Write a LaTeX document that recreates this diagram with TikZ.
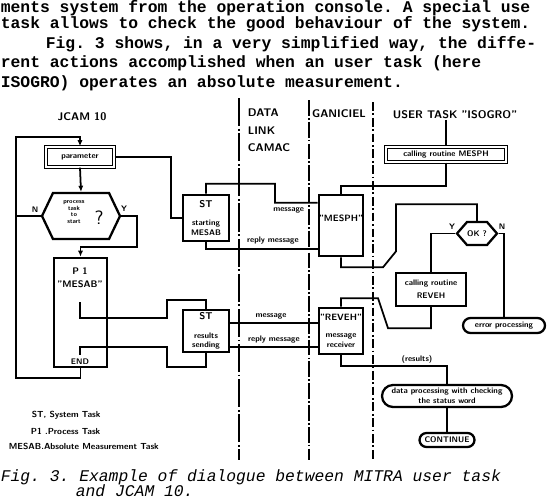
\documentclass[tikz,border=0pt]{standalone}
\usepackage{fontspec}
\setmonofont{Liberation Mono}
\usetikzlibrary{arrows.meta, positioning, calc, shapes.misc, shapes.symbols}

\begin{document}
\begin{tikzpicture}[x=0.02cm, y=-0.02cm, line width=1pt, >={Latex[length=3.5pt, width=3pt]},
  para/.style={font=\fontsize{9.3}{11}\selectfont\ttfamily\bfseries, inner sep=0, anchor=base west},
  capt/.style={font=\fontsize{9.3}{11}\selectfont\ttfamily\itshape, inner sep=0, anchor=base west},
  head/.style={font=\fontsize{6.3}{10}\selectfont\sffamily\bfseries, inner sep=0},
  lbl/.style={font=\fontsize{4.6}{5.6}\selectfont\sffamily\bfseries, inner sep=0, align=center},
  box/.style={draw, line width=1.5pt, inner sep=0, lbl},
  dbox/.style={draw, double, double distance=0.9pt, line width=0.8pt, inner sep=0, lbl},
  hexa/.style={signal, signal to=west and east, draw, line width=1.3pt, inner sep=0},
  term/.style={rounded rectangle, draw, line width=1.3pt, inner sep=0, lbl},
  lane/.style={line width=1.2pt}]
\useasboundingbox (0,0) rectangle (547,497);

% --- running text of the page ---
\node[para] (t1) at (0,12.5) {ments system from the operation console. A  special use};
\node[para] (t2) at (0,29) {task allows to check the good behaviour of the system.};
\node[para] (t3) at (45,48) {Fig. 3 shows, in a very simplified way, the diffe-};
\node[para] (t4) at (0,67) {rent actions accomplished when an user task (here};
\node[para] (t5) at (0,87) {ISOGRO) operates an absolute measurement.};

% --- column titles ---
\node[head] (jcam) at (82,117) {JCAM 10};
\node[head, align=left, anchor=north west] (dlc) at (247,108) {DATA\\LINK\\CAMAC};
\node[head] (gan) at (339,114) {GANICIEL};
\node[head] (usr) at (455,115) {USER TASK "ISOGRO"};

% --- separators ---
\coordinate (s1t) at (239,98);  \coordinate (s1b) at (239,460);
\coordinate (s2t) at (309,100); \coordinate (s2b) at (309,460);
\coordinate (s3t) at (373,102); \coordinate (s3b) at (373,460);
\draw[lane, dash pattern=on 16pt off 1.5pt on 1pt off 1.5pt] (s1t) -- (s1b);
\draw[lane, line width=1.4pt, dash pattern=on 9pt off 1.2pt on 1pt off 1.2pt] (s2t) -- (s2b);
\draw[lane, dash pattern=on 5pt off 1.5pt on 1pt off 1.5pt] (s3t) -- (s3b);

% --- JCAM 10 ---
\node[dbox, minimum width=1.36cm, minimum height=0.4cm] (param) at (80,157) {parameter};
\node[hexa, minimum width=1.56cm, minimum height=0.92cm, signal pointer angle=129] (proc) at (81,216) {};
\node[lbl, font=\fontsize{3.6}{3.9}\selectfont\sffamily\bfseries] (proct) at (74,212) {process\\task\\to\\start};
\node[lbl, font=\fontsize{11}{11}\selectfont\sffamily] (procq) at (99,218) {?};
\node[lbl] (pn) at (35,210) {N};
\node[lbl] (py) at (124,209) {Y};
\node[box, minimum width=1.06cm, minimum height=2.18cm] (p1) at (80.5,312.5) {};
\node[lbl, font=\fontsize{5.4}{7.5}\selectfont\sffamily\bfseries] (p1x) at (80,278) {P 1\\"MESAB"};
\node[lbl] (p1e) at (80,362) {END};

\node[box, minimum width=0.92cm, minimum height=0.92cm] (strt) at (206,218) {\fontsize{5.6}{5.6}\selectfont ST\\[5pt]starting\\MESAB};
\node[box, minimum width=0.92cm, minimum height=0.84cm] (rslt) at (206,331) {\fontsize{5.6}{5.6}\selectfont ST\\[5pt]results\\sending};

\coordinate (lp) at (16,137);
\draw[->] (p1.south) -- ++(0,10) -| (lp) -| (param.north);
\draw[->] (param.south) -- (proc.north);
\draw (proc.west) -- (proc.west -| lp);
\draw (param.east) -- ++(56,0) |- (strt.west);
\coordinate (yj) at (137,247);
\draw[->] (proc.east) -| (yj) -| (p1.north);
\coordinate (p1a) at (80,302);
\draw (p1a) |- (167,318) -- (167,300) -| (rslt.north);
\coordinate (p1b) at (80,355);
\draw (rslt.south) |- (167,367) -- (167,347) -| (p1b);

% --- GANICIEL ---
\node[box, minimum width=0.88cm, minimum height=1.22cm] (mesph) at (341,225.5) {};
\node[lbl, font=\fontsize{5.2}{6}\selectfont\sffamily\bfseries] (mesphx) at (341,218) {"MESPH"};
\node[box, minimum width=0.88cm, minimum height=0.92cm] (reveh) at (341,331) {\fontsize{5.2}{5.6}\selectfont "REVEH"\\[4pt]message\\receiver};

% --- messages through the data link ---
\draw (strt.north) -- ++(0,-10) -| ++(69,19) -- ([yshift=-0.18cm]mesph.north west);
\draw (strt.south) |- ([yshift=0.16cm]mesph.south west);
\draw ([yshift=0.16cm]rslt.east) -- ([yshift=0.16cm]reveh.west);
\draw ([yshift=-0.32cm]rslt.east) -- ([yshift=-0.32cm]reveh.west);
\node[lbl, anchor=north east] (m1) at (305,207) {message};
\node[lbl, anchor=south] (r1) at (273,245) {reply message};
\node[lbl, anchor=south] (m2) at (271,320) {message};
\node[lbl, anchor=south] (r2) at (274,344) {reply message};

% --- user task ---
\node[dbox, minimum width=2.4cm, minimum height=0.3cm] (callm) at (446,154.5) {calling routine MESPH};
\node[hexa, minimum width=0.8cm, minimum height=0.46cm, signal pointer angle=98, lbl] (ok) at (477,233.5) {OK ?};
\node[lbl] (oy) at (452,227) {Y};
\node[lbl] (on) at (502,227) {N};
\node[box, line width=1.3pt, minimum width=1.4cm, minimum height=0.66cm] (callr) at (431,289.5) {calling routine\\[2pt]REVEH};
\node[term, minimum width=1.64cm, minimum height=0.3cm] (err) at (504,325.5) {error processing};
\node[term, minimum width=2.6cm, minimum height=0.44cm] (dat) at (447,396) {data processing with checking\\the status word};
\node[term, minimum width=1.1cm, minimum height=0.28cm] (cont) at (447,440) {CONTINUE};
\node[lbl] (res) at (417,359) {(results)};

\draw (callm.north |- usr.south) -- (callm.north);
\draw (callm.south) -- ++(0,23) -| (mesph.north);
\draw (mesph.south) -- ++(0,10) -- ++(42,0) -- ++(13,-16) -- ++(0,-47) -| (ok.north);
\draw (ok.west) -| (callr.north);
\draw (ok.east) -| (err.north);
\draw (callr.south) -- ++(0,21) -- ++(-43,0) -- ++(-10,-30) -| (reveh.north);
\draw (reveh.south) -- ++(0,11) -| (dat.north);
\draw (dat.south) -- (cont.north);

% --- legend ---
\node[lbl, anchor=base west, font=\fontsize{5}{6}\selectfont\sffamily\bfseries] (lg1) at (31,417) {ST, System Task};
\node[lbl, anchor=base west, font=\fontsize{5}{6}\selectfont\sffamily\bfseries] (lg2) at (30,434) {P1 .Process Task};
\node[lbl, anchor=base west, font=\fontsize{5}{6}\selectfont\sffamily\bfseries] (lg3) at (8,449) {MESAB.Absolute Measurement Task};

% --- caption ---
\node[capt] (c1) at (0,481) {Fig. 3. Example of dialogue between MITRA user task};
\node[capt] (c2) at (75,496) {and JCAM 10.};
\end{tikzpicture}
\end{document}
